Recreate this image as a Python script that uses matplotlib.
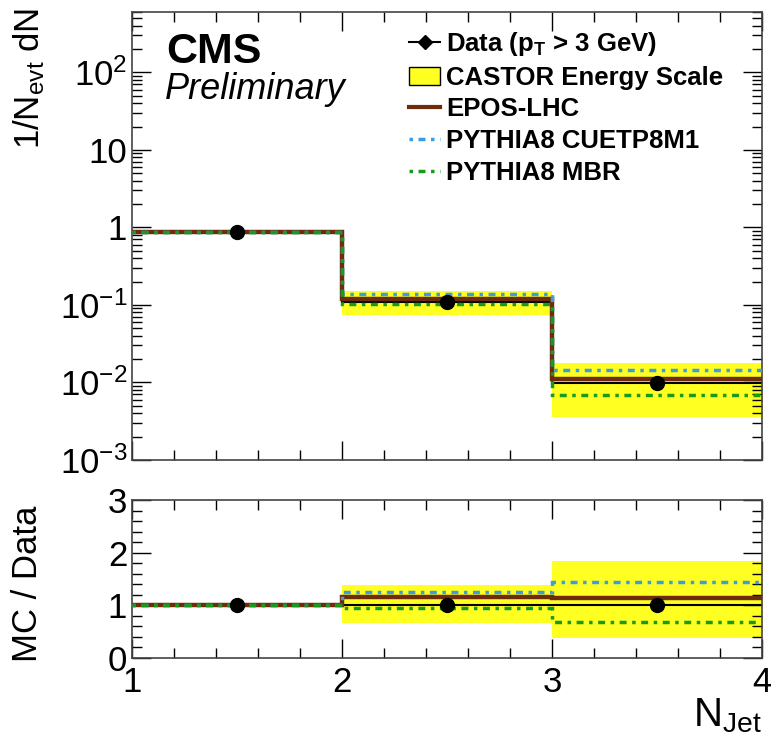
import matplotlib
matplotlib.use("Agg")
import matplotlib.pyplot as plt
from matplotlib.ticker import MultipleLocator, LogLocator, NullFormatter
from matplotlib.patches import Patch
from matplotlib.lines import Line2D
import numpy as np

plt.rcParams['font.family'] = ['Liberation Sans', 'DejaVu Sans']
plt.rcParams['mathtext.fontset'] = 'custom'
plt.rcParams['mathtext.rm'] = 'Liberation Sans'
plt.rcParams['mathtext.it'] = 'Liberation Sans:italic'
plt.rcParams['mathtext.bf'] = 'Liberation Sans:bold'

# bins in N_Jet
edges = [1, 2, 3, 4]
centers = [1.5, 2.5, 3.5]

# top panel: 1/N_evt dN
data = [0.88, 0.11, 0.0098]
data_err = [0.01, 0.003, 0.0006]
band_lo = [0.86, 0.075, 0.0036]
band_hi = [0.90, 0.15, 0.018]
epos = [0.88, 0.12, 0.011]
cuetp = [0.88, 0.14, 0.0143]
mbr = [0.88, 0.103, 0.0068]

# bottom panel: MC / Data
r_data = [1.0, 1.0, 1.0]
r_err = [0.01, 0.03, 0.1]
r_band_lo = [0.97, 0.67, 0.38]
r_band_hi = [1.03, 1.38, 1.85]
r_epos = [1.0, 1.16, 1.14]
r_cuetp = [1.0, 1.26, 1.45]
r_mbr = [1.0, 0.95, 0.69]

brown = '#6e2c0c'
blue = '#3d9be0'
green = '#1a9a1a'
yellow = '#ffff22'
ls_dot = (0, (1, 1.6, 2, 1.6))

fig = plt.figure(figsize=(7.71, 7.34), dpi=100)
ax = fig.add_axes([132/771, 1-460/734, 630/771, 448/734])
axr = fig.add_axes([132/771, 1-658/734, 630/771, 158/734], sharex=ax)


def draw(a, d, derr, lo, hi, e, c, m):
    for i in range(len(centers)):
        a.fill_between([edges[i], edges[i+1]], lo[i], hi[i], color=yellow, lw=0, zorder=1)
    a.stairs(d, edges, baseline=None, color='black', lw=1.5, zorder=2)
    a.stairs(e, edges, baseline=None, color=brown, lw=3.2, zorder=3)
    a.stairs(c, edges, baseline=None, color=blue, lw=2.5, ls=ls_dot, zorder=4)
    a.stairs(m, edges, baseline=None, color=green, lw=2.5, ls=ls_dot, zorder=4)
    a.errorbar(centers, d, yerr=derr, fmt='o', color='black', ms=10, lw=1.5, zorder=5)


draw(ax, data, data_err, band_lo, band_hi, epos, cuetp, mbr)
draw(axr, r_data, r_err, r_band_lo, r_band_hi, r_epos, r_cuetp, r_mbr)

ax.set_yscale('log')
ax.set_ylim(1e-3, 600)
ax.set_xlim(1, 4)
ax.yaxis.set_minor_locator(LogLocator(base=10, subs=np.arange(2, 10), numticks=20))
ax.yaxis.set_minor_formatter(NullFormatter())
ax.set_yticks([1e-3, 1e-2, 1e-1, 1, 10, 100])
ax.set_yticklabels(['$10^{-3}$', '$10^{-2}$', '$10^{-1}$', '1', '10', '$10^{2}$'])
ax.xaxis.set_minor_locator(MultipleLocator(0.2))
ax.tick_params(labelbottom=False)

axr.set_ylim(0, 3)
axr.set_yticks([0, 1, 2, 3])
axr.yaxis.set_minor_locator(MultipleLocator(0.2))
axr.set_xticks([1, 2, 3, 4])
axr.xaxis.set_minor_locator(MultipleLocator(0.2))

for a in (ax, axr):
    a.tick_params(which='both', direction='in', top=True, right=True, labelsize=25)
    a.tick_params(which='major', length=14, width=1)
    a.tick_params(which='minor', length=7, width=1)
    for s in a.spines.values():
        s.set_linewidth(1.2)
        s.set_color('#444444')
axr.tick_params(axis='x', pad=6)

ax.set_ylabel('1/N$_{\\mathrm{evt}}$ dN', fontsize=25, loc='top')
ax.yaxis.set_label_coords(-0.135, 1.01)
axr.set_ylabel('MC / Data', fontsize=25)
axr.yaxis.set_label_coords(-0.14, 0.47)
axr.set_xlabel('N$_{\\mathrm{Jet}}$', fontsize=29, loc='right', labelpad=-2)

ax.text(0.055, 0.955, 'CMS', transform=ax.transAxes, fontsize=31, fontweight='bold', va='top')
ax.text(0.052, 0.865, 'Preliminary', transform=ax.transAxes, fontsize=26, style='italic', va='top')

handles = [
    Line2D([0], [0], color='black', marker='D', ms=7, lw=1.5),
    Patch(facecolor=yellow, edgecolor='black', lw=1),
    Line2D([0], [0], color=brown, lw=3),
    Line2D([0], [0], color=blue, lw=2.5, ls=ls_dot),
    Line2D([0], [0], color=green, lw=2.5, ls=ls_dot),
]
labels = ['Data (p$_{\\mathbf{T}}$ > 3 GeV)', 'CASTOR Energy Scale', 'EPOS-LHC',
          'PYTHIA8 CUETP8M1', 'PYTHIA8 MBR']
leg = ax.legend(handles, labels, loc='upper left', bbox_to_anchor=(0.44, 0.96), frameon=False,
                prop={'size': 18.5, 'weight': 'bold'}, handlelength=1.2, handletextpad=0.25,
                labelspacing=0.3, borderaxespad=0, borderpad=0)

fig.savefig('out.png', dpi=100)
